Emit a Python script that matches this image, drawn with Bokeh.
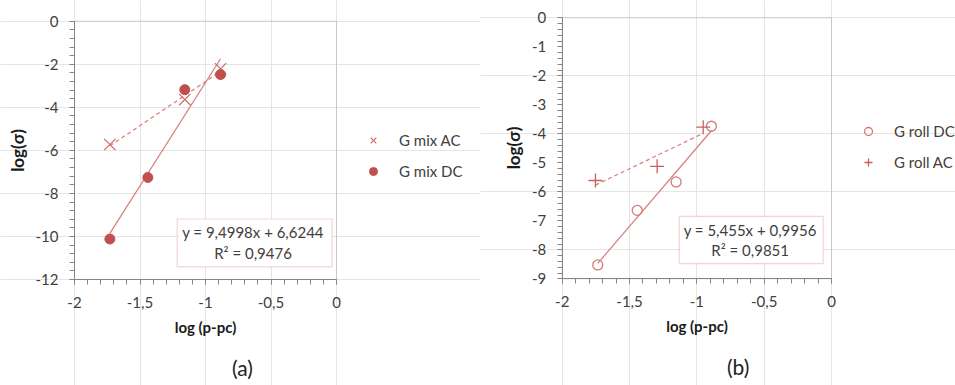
import numpy as np
from bokeh.plotting import figure
from bokeh.models import (Range1d, SingleIntervalTicker, CustomJSTickFormatter, LinearAxis,
                          Legend, LegendItem, Label, BoxAnnotation)
from bokeh.layouts import row
from bokeh.embed import file_html
from bokeh.resources import INLINE

# ---------------- data ----------------
# panel (a)
mix_ac_x = [-1.73, -1.158, -0.885]
mix_ac_y = [-5.73, -3.64, -2.21]
mix_dc_x = [-1.73, -1.44, -1.158, -0.885]
mix_dc_y = [-10.12, -7.26, -3.18, -2.48]
# panel (b)
roll_dc_x = [-1.736, -1.443, -1.154, -0.892]
roll_dc_y = [-8.52, -6.64, -5.66, -3.74]
roll_ac_x = [-1.753, -1.295, -0.953]
roll_ac_y = [-5.61, -5.12, -3.77]

eq_a = ["y = 9,4998x + 6,6244", "R² = 0,9476"]
eq_b = ["y = 5,455x + 0,9956", "R² = 0,9851"]
labels_a = ["G mix AC", "G mix DC"]
labels_b = ["G roll DC", "G roll AC"]
x_label = "log (p-pc)"
y_label = "log(σ)"
captions = ["(a)", "(b)"]
x_min, x_max = -2, 0

FONT = "Lato"
TXT = "#404040"
AXC = "#868686"
RED = "#C0504D"
LINE = "#D67D7A"
H = 385

fmt = CustomJSTickFormatter(code="return tick.toString().replace('.', ',');")


def panel(width, ymin, ystep, left_px, top_px, plot_w, plot_h):
    """Figure whose frame is the whole canvas; the plot area is placed at
    (left_px, top_px) with size plot_w x plot_h."""
    sx = plot_w / (x_max - x_min)
    sy = plot_h / (0 - ymin)
    xr = Range1d(x_min - left_px / sx, x_min + (width - left_px) / sx)
    yr = Range1d(0 - (H - top_px) / sy, 0 + top_px / sy)
    p = figure(width=width, height=H, output_backend="svg", toolbar_location=None,
               x_range=xr, y_range=yr, x_axis_location=None, y_axis_location=None,
               min_border=0, title=None)
    p.outline_line_color = None
    p.background_fill_color = "white"
    p.border_fill_color = "white"
    xa = LinearAxis(fixed_location=ymin, bounds=(x_min, x_max),
                    ticker=SingleIntervalTicker(interval=0.5, num_minor_ticks=5))
    ya = LinearAxis(fixed_location=x_min, bounds=(ymin, 0),
                    ticker=SingleIntervalTicker(interval=ystep, num_minor_ticks=5))
    for ax in (xa, ya):
        ax.formatter = fmt
        ax.axis_line_color = AXC
        ax.major_tick_line_color = AXC
        ax.minor_tick_line_color = AXC
        ax.major_tick_in = 0
        ax.major_tick_out = 5
        ax.minor_tick_in = 0
        ax.minor_tick_out = 5
        ax.major_label_text_font = FONT
        ax.major_label_text_font_size = "15px"
        ax.major_label_text_color = TXT
        ax.axis_label_text_font = FONT
        ax.axis_label_text_font_size = "15px"
        ax.axis_label_text_font_style = "bold"
        ax.axis_label_text_color = "#1a1a1a"
    xa.major_label_standoff = 12
    xa.axis_label_standoff = 7
    ya.major_label_standoff = 11
    ya.axis_label_standoff = 5
    ya.axis_label_text_font_size = "17px"
    xa.axis_label = x_label
    ya.axis_label = y_label
    p.add_layout(xa, "below")
    p.add_layout(ya, "left")
    # plot-area frame
    p.add_layout(BoxAnnotation(left=x_min, right=x_max, bottom=ymin, top=0,
                               fill_alpha=0, line_color=AXC, line_width=1, level="underlay"))
    return p


def trend(p, xs, ys, dash):
    k, b = np.polyfit(xs, ys, 1)
    x0, x1 = min(xs), max(xs)
    p.line([x0, x1], [k * x0 + b, k * x1 + b], line_color=LINE, line_width=1.2,
           line_dash=dash)


def eq_box(p, left, right, top, bottom, xc, y1, y2, lines):
    p.add_layout(BoxAnnotation(left=left, right=right, top=top, bottom=bottom,
                               fill_color="white", fill_alpha=1,
                               line_color="#D27471", line_width=1.2))
    for yy, t in zip((y1, y2), lines):
        p.add_layout(Label(x=xc, y=yy, text=t, text_align="center", text_baseline="middle",
                           text_font=FONT, text_font_size="15px", text_color=TXT))


def make_legend(p, items, loc):
    lg = Legend(items=items, location=loc, padding=0, margin=0, spacing=11,
                glyph_width=20, glyph_height=20, label_standoff=16, label_height=20,
                label_text_font=FONT, label_text_font_size="15px", label_text_color=TXT,
                border_line_alpha=0, background_fill_alpha=0)
    p.add_layout(lg)


def caption(p, text, x, y):
    p.add_layout(Label(x=x, y=y, text=text, text_align="center", text_baseline="middle",
                       text_font=FONT, text_font_size="21px", text_color="#222222"))


# ---------------- panel (a) ----------------
pa = panel(480, -12, 2, 74, 20.7, 262, 258.3)
trend(pa, mix_ac_x, mix_ac_y, "4 3")
trend(pa, mix_dc_x, mix_dc_y, "solid")
r_ac = pa.scatter(mix_ac_x, mix_ac_y, marker="x", size=16, line_color="#CF6B68", line_width=1.2)
r_dc = pa.scatter(mix_dc_x, mix_dc_y, marker="circle", size=10, fill_color=RED, line_color=RED)
eq_box(pa, -1.216, -0.033, -9.19, -11.41, -0.637, -9.81, -10.79, eq_a)
make_legend(pa, [LegendItem(label=labels_a[0], renderers=[r_ac]),
                 LegendItem(label=labels_a[1], renderers=[r_dc])], (363, 204))
caption(pa, captions[0], -0.718, -16.08)

# ---------------- panel (b) ----------------
pb = panel(475, -9, 1, 81.7, 17.3, 269.3, 261)
trend(pb, roll_ac_x, roll_ac_y, "4 3")
trend(pb, roll_dc_x, roll_dc_y, "solid")
r_dc2 = pb.scatter(roll_dc_x, roll_dc_y, marker="circle", size=10, fill_color=None,
                   line_color="#D27B78", line_width=1.3)
r_ac2 = pb.scatter(roll_ac_x, roll_ac_y, marker="cross", size=14, line_color="#C95F5C",
                   line_width=1.3)
eq_box(pb, -1.131, -0.062, -6.85, -8.48, -0.604, -7.31, -8.02, eq_b)
make_legend(pb, [LegendItem(label=labels_b[0], renderers=[r_dc2]),
                 LegendItem(label=labels_b[1], renderers=[r_ac2])], (378, 213))
caption(pb, captions[1], -0.693, -12.04)

layout = row(pa, pb)
open("out.html", "w").write(file_html(layout, INLINE))
